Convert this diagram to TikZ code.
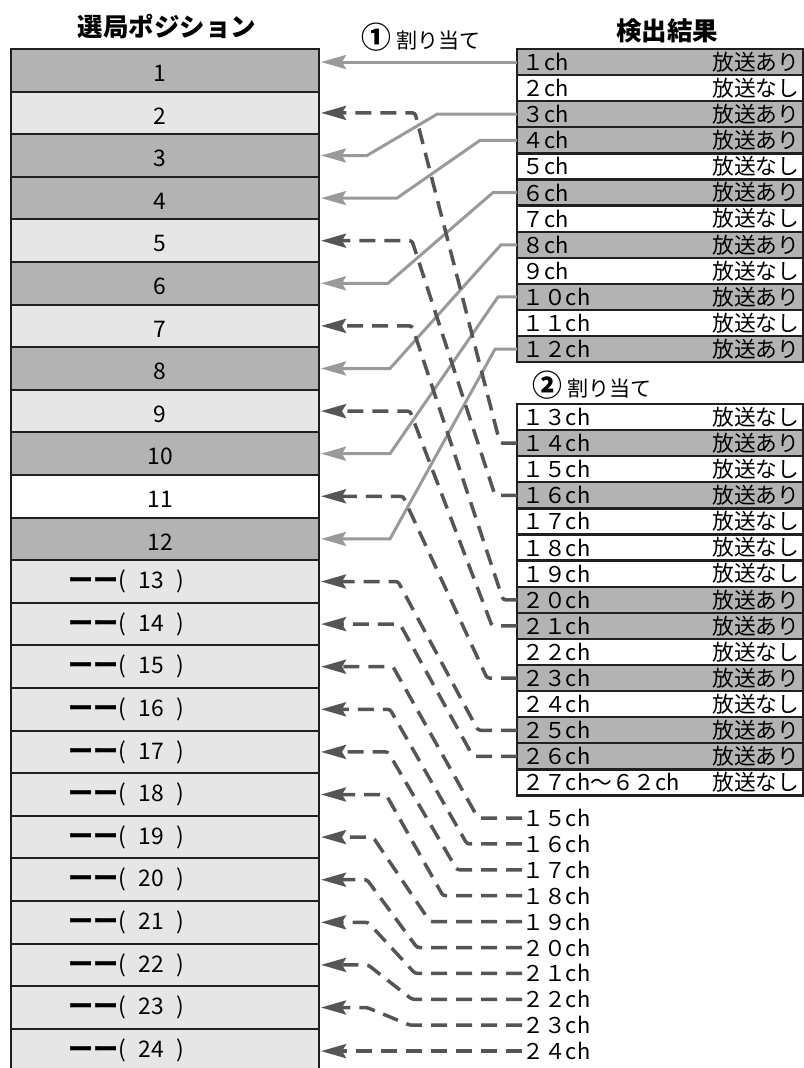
\documentclass[tikz,border=0pt]{standalone}
\usepackage{fontspec}
\setmainfont{Noto Sans CJK JP}
\usetikzlibrary{arrows.meta}

\definecolor{onair}{HTML}{B3B3B3}
\definecolor{idle}{HTML}{E6E6E6}
\definecolor{rule}{HTML}{231F20}
\definecolor{linklight}{HTML}{9A9A9A}
\definecolor{linkdark}{HTML}{555555}

\tikzset{
  posrow/.style={draw=rule, line width=0.4mm, minimum width=61.6mm, minimum height=8.52mm, inner sep=0pt, outer sep=0pt},
  chrow/.style={draw=rule, line width=0.45mm, minimum width=57.16mm, minimum height=5.22mm, inner sep=0pt, outer sep=0pt},
  posnum/.style={inner sep=0pt, font=\fontsize{13}{15}\selectfont},
  chtext/.style={inner sep=0pt, font=\fontsize{12.4}{14}\selectfont},
  headtext/.style={inner sep=0pt, font=\fontsize{14.5}{16}\selectfont\bfseries},
  steptext/.style={inner sep=0pt, font=\fontsize{12}{14}\selectfont},
  tip/.style={-{Stealth[length=5mm,width=2.8mm,inset=0.8mm]}, shorten >=0.4mm},
  onlink/.style={draw=linklight, line width=0.6mm, tip},
  offlink/.style={draw=linkdark, line width=0.7mm, dash pattern=on 3.2mm off 1.8mm, rounded corners=0.5mm, tip},
}

\begin{document}
\begin{tikzpicture}[x=0.2mm,y=-0.2mm]
\useasboundingbox (0,0) rectangle (804,1068);

% headings
\node[headtext] (posttl) at (167,27) {選局ポジション};
\node[headtext] (resttl) at (667,31) {検出結果};
\node[steptext, anchor=west] (asgA) at (361,37) {{\fontsize{17}{17}\selectfont\bfseries ①}\hspace{0.25em}割り当て};
\node[steptext, anchor=west] (asgB) at (532,385) {{\fontsize{17}{17}\selectfont\bfseries ②}\hspace{0.25em}割り当て};

% tuning positions
\foreach \i/\c in {1/onair,2/idle,3/onair,4/onair,5/idle,6/onair,7/idle,8/onair,
                   9/idle,10/onair,11/white,12/onair,13/idle,14/idle,15/idle,16/idle,
                   17/idle,18/idle,19/idle,20/idle,21/idle,22/idle,23/idle,24/idle}
  \node[posrow, fill=\c] (p\i) at (165,{49+(\i-0.5)*42.6}) {};
\foreach \i in {1,...,12}
  \node[posnum] at ([xshift=-1mm,yshift=-0.6mm]p\i.center) {\i};
\coordinate (lx) at (68,0);
\foreach \i in {13,...,24}
  \node[posnum, anchor=west] at (p\i.center -| lx)
    {{\bfseries\scalebox{1.1}[1]{ーー}}(\hspace{.55em}\i\hspace{.55em})};

% detection results
\foreach \k/\nm/\st/\c in {1/１/あり/onair,2/２/なし/white,3/３/あり/onair,4/４/あり/onair,
                          5/５/なし/white,6/６/あり/onair,7/７/なし/white,8/８/あり/onair,
                          9/９/なし/white,10/１０/あり/onair,11/１１/なし/white,12/１２/あり/onair}
{
  \node[chrow, fill=\c] (c\k) at (659.9,{49+(\k-0.5)*26.1}) {};
  \node[chtext, anchor=west] at ([xshift=1mm]c\k.west) {\nm ch};
  \node[chtext, anchor=east] at ([xshift=-0.6mm]c\k.east) {放送\st};
}
\foreach \k/\nm/\st/\c in {13/１３/なし/white,14/１４/あり/onair,15/１５/なし/white,16/１６/あり/onair,
                          17/１７/なし/white,18/１８/なし/white,19/１９/なし/white,20/２０/あり/onair,
                          21/２１/あり/onair,22/２２/なし/white,23/２３/あり/onair,24/２４/なし/white,
                          25/２５/あり/onair,26/２６/あり/onair,27/２７ch～６２/なし/white}
{
  \node[chrow, fill=\c] (c\k) at (659.9,{404+(\k-12.5)*26.1}) {};
  \node[chtext, anchor=west] at ([xshift=1mm]c\k.west) {\nm ch};
  \node[chtext, anchor=east] at ([xshift=-0.6mm]c\k.east) {放送\st};
}

% channels moved down
\foreach \k/\nm in {15/１５,16/１６,17/１７,18/１８,19/１９,20/２０,21/２１,22/２２,23/２３,24/２４}
  \node[chtext, anchor=west] (b\k) at (522,{818+(\k-15)*25.9}) {\nm ch};

% allocation 1
\draw[onlink] (c1.west) -- (c1.west -| p1.east);
\foreach \a/\r/\l in {3/437/367,4/480/397,6/493/388,8/501/390,10/498/390,12/495/390}
  \draw[onlink] (c\a.west) -- (\r,0 |- c\a.west) -- (\l,0 |- p\a.east) -- (p\a.east);

% allocation 2
\foreach \a/\b/\r/\l in {14/2/500/415,16/5/495/412,20/7/503/412,21/9/492/410,
                         23/11/487/403,25/13/478/398,26/14/473/400}
  \draw[offlink] (c\a.west) -- (\r,0 |- c\a.west) -- (\l,0 |- p\b.east) -- (p\b.east);
\foreach \a/\r/\l in {15/478/393,16/467/390,17/457/388,18/443/386,19/430/373,
                      20/417/367,21/415/368,22/412/368,23/410/367}
  \draw[offlink] (b\a.west) -- (\r,0 |- b\a.west) -- (\l,0 |- p\a.east) -- (p\a.east);
\draw[offlink] (b24.west) -- (b24.west -| p24.east);
\end{tikzpicture}
\end{document}
